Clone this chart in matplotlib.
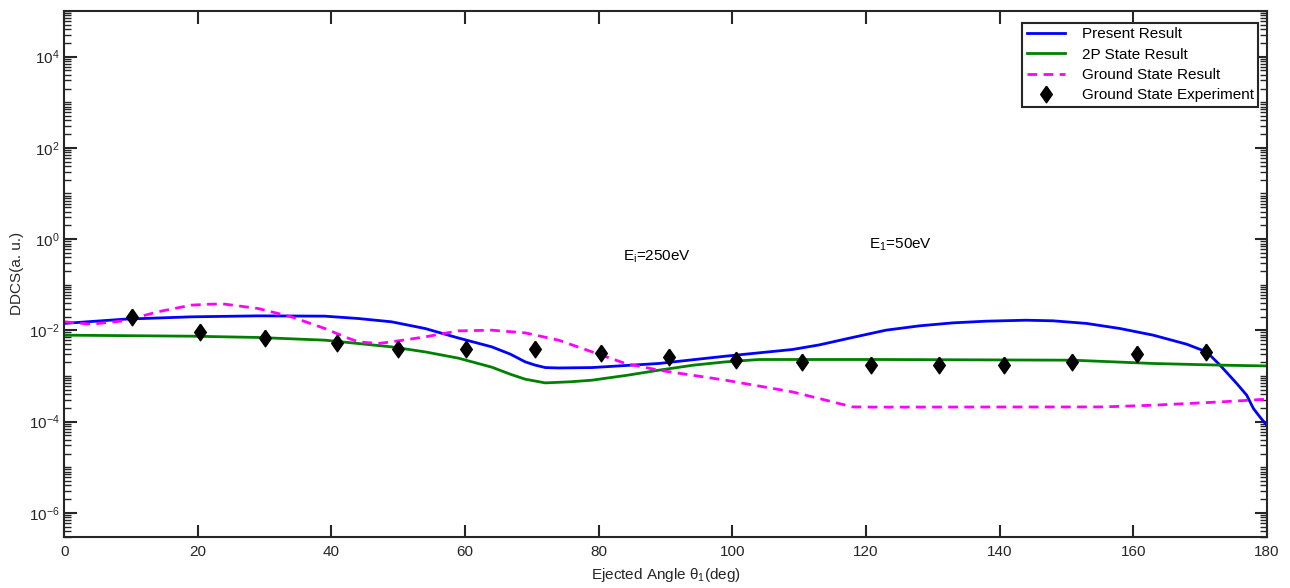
import numpy as np
import matplotlib
matplotlib.use("Agg")
import matplotlib.pyplot as plt
from matplotlib.ticker import LogLocator, NullFormatter, FixedLocator

plt.rcParams['font.family'] = ['Liberation Sans', 'DejaVu Sans']
plt.rcParams['mathtext.fontset'] = 'custom'
plt.rcParams['mathtext.rm'] = 'Liberation Sans'
plt.rcParams['mathtext.it'] = 'Liberation Sans'
plt.rcParams['mathtext.default'] = 'regular'

# present result (blue)
present_x = [0, 9, 19, 29, 39, 44, 49, 54, 59, 64, 66.8, 69, 70.5, 72, 74, 79, 89, 99,
             109, 113, 118, 123, 128, 133, 138, 144, 148, 153, 158, 163, 168, 171,
             173, 175.5, 177, 178, 179, 180]
present_y = [0.0142, 0.0176, 0.0198, 0.0208, 0.0205, 0.0182, 0.0154, 0.0110, 0.0068,
             0.00435, 0.0030, 0.00204, 0.00173, 0.00153, 0.0015, 0.00153, 0.00188,
             0.00272, 0.00381, 0.0048, 0.00699, 0.0101, 0.01256, 0.0146, 0.0159,
             0.0167, 0.0162, 0.0142, 0.0110, 0.00785, 0.00498, 0.00338, 0.00173,
             0.000685, 0.000379, 0.000194, 0.000125, 8.3e-5]

# 2P state result (green)
p2_x = [0, 19, 29, 39, 49, 54, 59, 64, 66.8, 69, 72, 75.8, 79, 84.3, 89, 94.2, 99, 104,
        113, 122, 151, 163, 173, 180]
p2_y = [0.00785, 0.00746, 0.00699, 0.0061, 0.00435, 0.00338, 0.00246, 0.00156, 0.00109,
        0.000851, 0.000706, 0.000747, 0.000809, 0.00104, 0.00134, 0.00173, 0.00204,
        0.0023, 0.0023, 0.0023, 0.00222, 0.00188, 0.00173, 0.00166]

# ground state result (magenta dashed)
gs_x = [0, 4, 9, 14, 19, 22, 24, 29, 34, 39, 42, 44, 47, 49, 54, 59, 64, 69, 74, 79,
        84, 89, 99, 109, 114, 118, 122, 155.5, 163, 173, 180]
gs_y = [0.0154, 0.01368, 0.0162, 0.0255, 0.0357, 0.0376, 0.0376, 0.0302, 0.0198, 0.0110,
        0.0072, 0.0056, 0.00516, 0.0056, 0.0072, 0.00975, 0.0101, 0.00881, 0.0061,
        0.00338, 0.00188, 0.00134, 0.000809, 0.000448, 0.000295, 0.00021, 0.000208,
        0.00021, 0.000229, 0.00027, 0.00031]

# ground state experiment (diamonds)
exp_x = [10.1, 20.3, 30.1, 40.9, 49.9, 60.2, 70.5, 80.3, 90.5, 100.6, 110.5, 120.7,
         130.9, 140.6, 150.9, 160.6, 170.9]
exp_y = [0.0198, 0.00927, 0.00685, 0.00516, 0.00381, 0.00381, 0.00381, 0.00321, 0.00255,
         0.00222, 0.00204, 0.00173, 0.00173, 0.00173, 0.00204, 0.00311, 0.00338]

diamond = [(0, 1), (0.7, 0), (0, -1), (-0.7, 0), (0, 1)]

fig = plt.figure(figsize=(12.9, 5.88), dpi=100)
ax = fig.add_axes([0.0498, 0.0872, 0.9322, 0.8941])

ax.plot(present_x, present_y, color='#0000ff', lw=2, label='Present Result')
ax.plot(p2_x, p2_y, color='#008000', lw=2, label='2P State Result')
ax.plot(gs_x, gs_y, color='#ff00ff', lw=2, dashes=(3.5, 2.3), label='Ground State Result')
ax.plot(exp_x, exp_y, linestyle='none', marker=diamond, color='black', ms=12,
        label='Ground State Experiment')

ax.set_yscale('log')
ax.set_xlim(0, 180)
ax.set_ylim(3e-7, 1e5)
ax.set_xticks(np.arange(0, 181, 20))
ax.yaxis.set_major_locator(FixedLocator([1e-6, 1e-4, 1e-2, 1e0, 1e2, 1e4]))
ax.yaxis.set_minor_locator(LogLocator(base=10, subs=np.arange(1, 10), numticks=50))
ax.yaxis.set_minor_formatter(NullFormatter())

dark = '#262626'
for s in ax.spines.values():
    s.set_color(dark)
    s.set_linewidth(1.5)
ax.tick_params(which='both', direction='in', top=True, right=True, colors=dark,
               labelsize=11, labelcolor=dark)
ax.tick_params(which='major', length=9, width=1.5)
ax.tick_params(axis='x', which='major', pad=6)
ax.tick_params(which='minor', length=5, width=1)

ax.set_xlabel(r'Ejected Angle $\theta_1$(deg)', fontsize=11, color=dark, labelpad=5)
ax.set_ylabel('DDCS(a. u.)', fontsize=11, color=dark, labelpad=3)

ax.text(83.7, 0.40, r'E$_i$=250eV', fontsize=11, va='center', ha='left')
ax.text(120.4, 0.74, r'E$_1$=50eV', fontsize=11, va='center', ha='left')

leg = ax.legend(loc='upper right', bbox_to_anchor=(0.9928, 0.978), fontsize=11,
                frameon=True, fancybox=False, edgecolor='#262626', framealpha=1,
                handlelength=2.5, handletextpad=1.1, labelspacing=0.42,
                borderpad=0.3, borderaxespad=0)
leg.get_frame().set_linewidth(1.5)

fig.savefig('out.png', dpi=100)
